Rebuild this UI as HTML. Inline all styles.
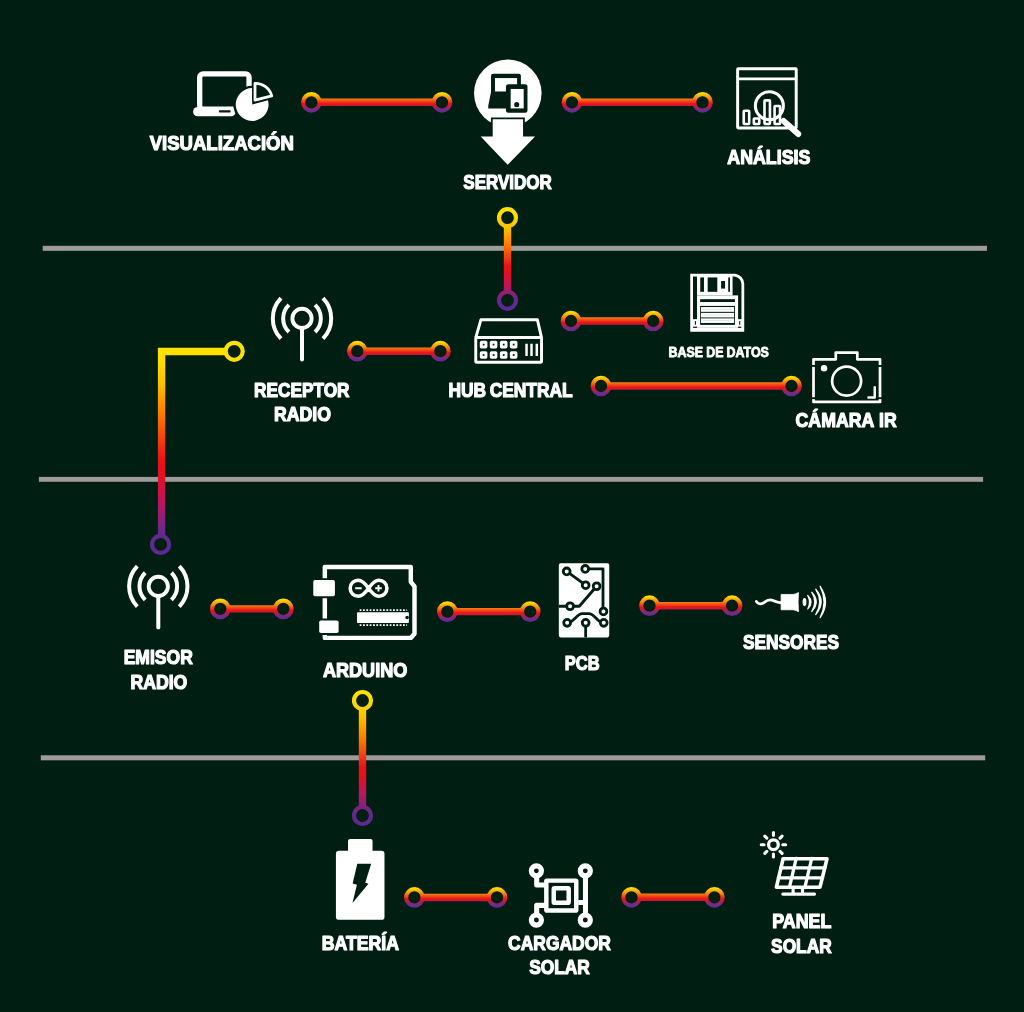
<!DOCTYPE html>
<html lang="es">
<head>
<meta charset="utf-8">
<title>Arquitectura del sistema</title>
<style>
html,body{margin:0;padding:0;background:#011e12;}
body{width:1024px;height:1012px;overflow:hidden;font-family:"Liberation Sans",sans-serif;}
svg{display:block;}
svg text{font-family:"Liberation Sans",sans-serif;font-weight:bold;fill:#fff;stroke:#fff;stroke-width:1.2px;stroke-linejoin:round;word-spacing:-1.5px;}
</style>
</head>
<body>
<svg width="1024" height="1012" viewBox="0 0 1024 1012">
<defs>
<linearGradient id="gh" gradientUnits="userSpaceOnUse" x1="0" y1="-10.7" x2="0" y2="10.7"><stop offset="0" stop-color="#ffe600"/><stop offset="0.06" stop-color="#ffe000"/><stop offset="0.32" stop-color="#f7860f"/><stop offset="0.57" stop-color="#ec1218"/><stop offset="0.87" stop-color="#672d91"/><stop offset="1" stop-color="#602c8f"/></linearGradient>
<linearGradient id="gv1" gradientUnits="userSpaceOnUse" x1="0" y1="207.0" x2="0" y2="311.0"><stop offset="0" stop-color="#ffe400"/><stop offset="0.08" stop-color="#ffdd00"/><stop offset="0.2" stop-color="#ffc000"/><stop offset="0.35" stop-color="#ff8000"/><stop offset="0.47" stop-color="#f2460f"/><stop offset="0.57" stop-color="#e9101a"/><stop offset="0.63" stop-color="#e6101c"/><stop offset="0.76" stop-color="#bd155a"/><stop offset="0.9" stop-color="#62298f"/><stop offset="1" stop-color="#5d2890"/></linearGradient>
<linearGradient id="gv2" gradientUnits="userSpaceOnUse" x1="0" y1="689.8" x2="0" y2="826.2"><stop offset="0" stop-color="#ffe400"/><stop offset="0.08" stop-color="#ffdd00"/><stop offset="0.2" stop-color="#ffc000"/><stop offset="0.35" stop-color="#ff8000"/><stop offset="0.47" stop-color="#f2460f"/><stop offset="0.57" stop-color="#e9101a"/><stop offset="0.63" stop-color="#e6101c"/><stop offset="0.76" stop-color="#bd155a"/><stop offset="0.9" stop-color="#62298f"/><stop offset="1" stop-color="#5d2890"/></linearGradient>
<linearGradient id="gl" gradientUnits="userSpaceOnUse" x1="0" y1="340.5" x2="0" y2="555.0"><stop offset="0" stop-color="#ffe400"/><stop offset="0.1" stop-color="#ffdd00"/><stop offset="0.2" stop-color="#ffc000"/><stop offset="0.33" stop-color="#ff8000"/><stop offset="0.45" stop-color="#f2460f"/><stop offset="0.56" stop-color="#e9101a"/><stop offset="0.62" stop-color="#e6101c"/><stop offset="0.75" stop-color="#bd155a"/><stop offset="0.9" stop-color="#62298f"/><stop offset="1" stop-color="#5d2890"/></linearGradient>
</defs>
<rect width="1024" height="1012" fill="#011e12"/>
<g id="separators"><rect x="42.7" y="245.8" width="944.30" height="5.00" fill="#9f9b9b"/><rect x="38.9" y="476.9" width="944.20" height="4.90" fill="#9f9b9b"/><rect x="40.8" y="755.3" width="944.40" height="5.00" fill="#9f9b9b"/></g>
<g id="connectors">
<g transform="translate(0,102.30)" stroke="url(#gh)" fill="none"><line x1="319.65" y1="0.00" x2="433.75" y2="0.00" stroke-width="7.4"/><circle cx="311.40" cy="0.00" r="8.25" stroke-width="4.2"/><circle cx="442.00" cy="0.00" r="8.25" stroke-width="4.2"/></g>
<g transform="translate(0,102.30)" stroke="url(#gh)" fill="none"><line x1="580.25" y1="0.00" x2="694.25" y2="0.00" stroke-width="7.4"/><circle cx="572.00" cy="0.00" r="8.25" stroke-width="4.2"/><circle cx="702.50" cy="0.00" r="8.25" stroke-width="4.2"/></g>
<g transform="translate(0,351.20)" stroke="url(#gh)" fill="none"><line x1="365.55" y1="0.00" x2="432.15" y2="0.00" stroke-width="7.4"/><circle cx="357.30" cy="0.00" r="8.25" stroke-width="4.2"/><circle cx="440.40" cy="0.00" r="8.25" stroke-width="4.2"/></g>
<g transform="translate(0,321.00)" stroke="url(#gh)" fill="none"><line x1="579.25" y1="0.00" x2="644.95" y2="0.00" stroke-width="7.4"/><circle cx="571.00" cy="0.00" r="8.25" stroke-width="4.2"/><circle cx="653.20" cy="0.00" r="8.25" stroke-width="4.2"/></g>
<g transform="translate(0,386.00)" stroke="url(#gh)" fill="none"><line x1="609.25" y1="0.00" x2="783.25" y2="0.00" stroke-width="7.4"/><circle cx="601.00" cy="0.00" r="8.25" stroke-width="4.2"/><circle cx="791.50" cy="0.00" r="8.25" stroke-width="4.2"/></g>
<g transform="translate(0,608.90)" stroke="url(#gh)" fill="none"><line x1="228.55" y1="0.00" x2="275.05" y2="0.00" stroke-width="7.4"/><circle cx="220.30" cy="0.00" r="8.25" stroke-width="4.2"/><circle cx="283.30" cy="0.00" r="8.25" stroke-width="4.2"/></g>
<g transform="translate(0,611.60)" stroke="url(#gh)" fill="none"><line x1="455.60" y1="0.00" x2="521.95" y2="0.00" stroke-width="7.4"/><circle cx="447.35" cy="0.00" r="8.25" stroke-width="4.2"/><circle cx="530.20" cy="0.00" r="8.25" stroke-width="4.2"/></g>
<g transform="translate(0,605.70)" stroke="url(#gh)" fill="none"><line x1="657.75" y1="0.00" x2="723.85" y2="0.00" stroke-width="7.4"/><circle cx="649.50" cy="0.00" r="8.25" stroke-width="4.2"/><circle cx="732.10" cy="0.00" r="8.25" stroke-width="4.2"/></g>
<g transform="translate(0,897.45)" stroke="url(#gh)" fill="none"><line x1="422.65" y1="0.00" x2="488.75" y2="0.00" stroke-width="7.4"/><circle cx="414.40" cy="0.00" r="8.25" stroke-width="4.2"/><circle cx="497.00" cy="0.00" r="8.25" stroke-width="4.2"/></g>
<g transform="translate(0,897.30)" stroke="url(#gh)" fill="none"><line x1="639.75" y1="0.00" x2="706.15" y2="0.00" stroke-width="7.4"/><circle cx="631.50" cy="0.00" r="8.25" stroke-width="4.2"/><circle cx="714.40" cy="0.00" r="8.25" stroke-width="4.2"/></g>
<g stroke="url(#gv1)" fill="none"><line x1="507.5" y1="226.20" x2="507.5" y2="291.80" stroke-width="7.4"/><circle cx="507.5" cy="217.7" r="8.5" stroke-width="4.2"/><circle cx="507.5" cy="300.3" r="8.5" stroke-width="4.2"/></g>
<g stroke="url(#gv2)" fill="none"><line x1="362.5" y1="709.00" x2="362.5" y2="807.00" stroke-width="7.4"/><circle cx="362.5" cy="700.5" r="8.5" stroke-width="4.2"/><circle cx="362.5" cy="815.5" r="8.5" stroke-width="4.2"/></g>
<g stroke="url(#gl)" fill="none"><path d="M225.95,351.5 H161.6 V536.05" stroke-width="7.4" stroke-linejoin="miter"/><circle cx="234.2" cy="351.3" r="8.5" stroke-width="4.2"/><circle cx="160.6" cy="544.4" r="8.5" stroke-width="4.2"/></g>
</g>
<g id="icons">
<g transform="translate(140,60) scale(0.156250)">
<rect x="382" y="89" width="316" height="225" rx="22" fill="none" stroke="#fff" stroke-width="34"/>
<rect x="340" y="300" width="272" height="60" rx="28" fill="#fff"/>
<rect x="505" y="322" width="75" height="14" rx="5" fill="#011e12"/>
<circle cx="717" cy="285" r="120" fill="#011e12"/>
<path d="M718,285 L718,180 A105,105 0 1 0 819,257 Z" fill="#fff"/>
<path d="M736,257 L736,150 A108,108 0 0 1 843,229 Z" fill="#011e12" stroke="#011e12" stroke-width="36" stroke-linejoin="round"/>
<path d="M736,257 L736,150 A108,108 0 0 1 843,229 Z" fill="#011e12" stroke="#fff" stroke-width="18" stroke-linejoin="round"/>
</g><g transform="translate(444,50) scale(0.126482)">
<circle cx="504.5" cy="342" r="267" fill="#fff"/>
<path d="M385,548 H625 V683 H720 L503,908 L290,683 H385 Z" fill="#fff" stroke="#011e12" stroke-width="28" stroke-linejoin="miter" paint-order="stroke"/>
<path d="M388,188 H592 Q608,188 608,204 V462 H350 V440 L372,330 V204 Q372,188 388,188 Z" fill="#011e12"/>
<rect x="403" y="222" width="175" height="106" fill="#fff"/>
<rect x="490" y="270" width="170" height="227" rx="20" fill="#011e12"/>
<rect x="527" y="308" width="103" height="154" fill="#fff"/>
<circle cx="575" cy="432" r="20" fill="#011e12"/>
</g><g transform="translate(716,56) scale(0.118578)">
<g fill="none" stroke="#fff">
<rect x="182.5" y="107.5" width="494" height="499" rx="5" stroke-width="25"/>
<line x1="182" y1="193" x2="678" y2="193" stroke-width="23"/>
<circle cx="450" cy="420" r="118" stroke-width="26"/>
<line x1="570" y1="548" x2="694" y2="658" stroke-width="50" stroke-linecap="round"/>
<rect x="234" y="462" width="46" height="112" rx="6" stroke-width="22"/>
<rect x="319" y="527" width="46" height="47" rx="6" stroke-width="22"/>
<rect x="409" y="374" width="46" height="200" rx="6" stroke-width="22"/>
<rect x="494" y="422" width="46" height="152" rx="6" stroke-width="22"/>
</g>
</g><g transform="translate(302.0,318.4) scale(0.148221)"><g fill="none" stroke="#fff">
<circle cx="0" cy="0" r="65" stroke-width="26"/>
<line x1="0" y1="70" x2="0" y2="277" stroke-width="27" stroke-linecap="round"/>
<path d="M-88.2,-91.4 A127,127 0 0 0 -88.2,91.4 M88.2,-91.4 A127,127 0 0 1 88.2,91.4 M-141.7,-136.8 A197,197 0 0 0 -141.7,136.8 M141.7,-136.8 A197,197 0 0 1 141.7,136.8" stroke-width="27"/>
</g></g><g transform="translate(158.3,586.35) scale(0.148221)"><g fill="none" stroke="#fff">
<circle cx="0" cy="0" r="65" stroke-width="26"/>
<line x1="0" y1="70" x2="0" y2="277" stroke-width="27" stroke-linecap="round"/>
<path d="M-88.2,-91.4 A127,127 0 0 0 -88.2,91.4 M88.2,-91.4 A127,127 0 0 1 88.2,91.4 M-141.7,-136.8 A197,197 0 0 0 -141.7,136.8 M141.7,-136.8 A197,197 0 0 1 141.7,136.8" stroke-width="27"/>
</g></g><g transform="translate(436,280) scale(0.146484)">
<g fill="none" stroke="#fff" stroke-linejoin="round">
<rect x="271.5" y="392" width="449" height="170" rx="6" stroke-width="20"/>
<path d="M272,392 L307,271 H692 L720,392" stroke-width="20"/>
<path d="M618,436 V518 M652,436 V518 M688,436 V518" stroke-width="17"/>
</g><rect x="299" y="415" width="52" height="52" rx="12" fill="#fff"/><rect x="319" y="435" width="12" height="12" fill="#011e12"/><rect x="299" y="486" width="52" height="52" rx="12" fill="#fff"/><rect x="319" y="506" width="12" height="12" fill="#011e12"/><rect x="367" y="415" width="52" height="52" rx="12" fill="#fff"/><rect x="387" y="435" width="12" height="12" fill="#011e12"/><rect x="367" y="486" width="52" height="52" rx="12" fill="#fff"/><rect x="387" y="506" width="12" height="12" fill="#011e12"/><rect x="436" y="415" width="52" height="52" rx="12" fill="#fff"/><rect x="456" y="435" width="12" height="12" fill="#011e12"/><rect x="436" y="486" width="52" height="52" rx="12" fill="#fff"/><rect x="456" y="506" width="12" height="12" fill="#011e12"/><rect x="504" y="415" width="52" height="52" rx="12" fill="#fff"/><rect x="524" y="435" width="12" height="12" fill="#011e12"/><rect x="504" y="486" width="52" height="52" rx="12" fill="#fff"/><rect x="524" y="506" width="12" height="12" fill="#011e12"/>
</g><g transform="translate(680,264) scale(0.079051)">
<path d="M147,142 H695 Q785,160 795,250 V841 H147 Z" fill="none" stroke="#fff" stroke-width="35" stroke-linejoin="miter"/>
<rect x="215" y="142" width="450" height="255" fill="#fff"/>
<rect x="215" y="397" width="520" height="400" fill="#fff"/>
<rect x="147" y="698" width="648" height="143" fill="#fff"/>
<g fill="#011e12">
<rect x="256" y="170" width="48" height="182"/>
<rect x="350" y="170" width="122" height="182"/>
<rect x="520" y="215" width="50" height="96"/>
<rect x="610" y="170" width="22" height="182"/>
<rect x="255" y="445" width="440" height="36"/>
<rect x="255" y="530" width="440" height="240"/>
<rect x="188" y="722" width="14" height="46"/>
<rect x="748" y="722" width="14" height="46"/>
<rect x="166" y="792" width="50" height="16"/>
<rect x="734" y="792" width="42" height="16"/>
</g>
<g fill="#fff">
<rect x="266" y="545" width="418" height="60"/>
<rect x="266" y="618" width="418" height="58"/>
<rect x="266" y="688" width="418" height="58"/>
</g>
<path d="M295,576 H655 M295,647 H655 M295,716 H655 M216,803 H734" stroke="#011e12" stroke-width="7" opacity="0.22"/>
</g><g transform="translate(770,330) scale(0.146484)">
<g fill="none" stroke="#fff">
<path d="M297,200 H449 V154 H596 V200 H751 V491 H297 Z" stroke-width="18.5" stroke-linejoin="round"/>
<circle cx="523" cy="349" r="99" stroke-width="18.5"/>
<path d="M715,390 V460 H672" stroke-width="17" stroke-linecap="round" stroke-linejoin="round"/>
</g>
<circle cx="369" cy="261" r="22" fill="#fff"/>
<g fill="#011e12"><rect x="284" y="239" width="26" height="13"/><rect x="284" y="459" width="26" height="13"/><rect x="738" y="239" width="26" height="13"/><rect x="738" y="459" width="26" height="13"/></g>
</g><g transform="translate(290,550) scale(0.148221)">
<path d="M235,115 H815 V215 L840,245 V565 L815,593 H235 Z" fill="none" stroke="#fff" stroke-width="30" stroke-linejoin="round"/>
<rect x="157" y="203" width="146" height="109" rx="12" fill="#fff" stroke="#011e12" stroke-width="26" paint-order="stroke"/>
<rect x="197" y="475" width="131" height="85" rx="12" fill="#fff" stroke="#011e12" stroke-width="26" paint-order="stroke"/>
<g fill="none" stroke="#fff">
<path d="M530,258 C505,222 486,204 460,204 A54,54 0 1 0 460,312 C486,312 505,294 530,258 C555,222 574,204 600,204 A54,54 0 1 1 600,312 C574,312 555,294 530,258 Z" stroke-width="24" stroke-linejoin="round"/>
<path d="M440,258 H484 M575,258 H619 M597,236 V280" stroke-width="13"/>
<path d="M470,405 H790 M470,507 H790" stroke-width="12" stroke-dasharray="12 10.5"/>
</g>
<rect x="452" y="420" width="350" height="72" rx="6" fill="#fff"/>
<circle cx="790" cy="456" r="12" fill="#011e12"/>
</g><g transform="translate(520,540.3) scale(0.148221)">
<rect x="262" y="155" width="340" height="500" rx="12" fill="#fff"/>
<g fill="none" stroke="#011e12" stroke-width="19" stroke-linejoin="round">
<path d="M315,210 L443,303"/>
<path d="M440,193 H560 V480"/>
<path d="M262,445 H400 L517,310"/>
<path d="M318,557 C365,557 380,495 420,495 H465 C505,495 520,557 565,557"/>
<path d="M443,557 V655"/>
</g><circle cx="315" cy="210" r="23" fill="#fff" stroke="#011e12" stroke-width="19"/><circle cx="440" cy="193" r="23" fill="#fff" stroke="#011e12" stroke-width="19"/><circle cx="443" cy="303" r="23" fill="#fff" stroke="#011e12" stroke-width="19"/><circle cx="517" cy="310" r="23" fill="#fff" stroke="#011e12" stroke-width="19"/><circle cx="338" cy="445" r="23" fill="#fff" stroke="#011e12" stroke-width="19"/><circle cx="563" cy="480" r="23" fill="#fff" stroke="#011e12" stroke-width="19"/><circle cx="318" cy="557" r="23" fill="#fff" stroke="#011e12" stroke-width="19"/><circle cx="443" cy="557" r="23" fill="#fff" stroke="#011e12" stroke-width="19"/><circle cx="565" cy="557" r="23" fill="#fff" stroke="#011e12" stroke-width="19"/>
</g><g transform="translate(720,560) scale(0.136718)">
<path d="M266,303 C280,325 302,328 324,310 C347,290 367,285 392,298 C412,308 427,312 450,313" fill="none" stroke="#fff" stroke-width="20" stroke-linecap="round"/>
<path d="M447,252 H535 Q560,248 574,238 Q568,308 574,378 Q560,368 535,364 H447 Z" fill="#fff" stroke="#fff" stroke-width="6" stroke-linejoin="round"/>
<ellipse cx="618" cy="308" rx="14" ry="30" fill="#fff"/>
<g fill="#fff" stroke="#fff" stroke-width="9" stroke-linejoin="round">
<path d="M642,259 Q690.0,308.5 642,358 Q668.0,308.5 642,259 Z"/>
<path d="M671,236 Q737.0,306.5 671,377 Q715.0,306.5 671,236 Z"/>
<path d="M700,214 Q780.0,306.5 700,399 Q758.0,306.5 700,214 Z"/>
<path d="M732,192 Q812.0,307.0 732,422 Q790.0,307.0 732,192 Z"/>
</g>
</g><g transform="translate(300,790) scale(0.177866)">
<rect x="202" y="342" width="273" height="388" rx="18" fill="#fff"/>
<rect x="270" y="275" width="138" height="90" rx="12" fill="#fff"/>
<path d="M322,415 H400 L367,522 L385,527 L295,635 L320,533 L296,526 Z" fill="#011e12"/>
</g><g transform="translate(490,840) scale(0.148221)">
<g fill="none" stroke="#fff" stroke-width="30" stroke-linejoin="round">
<circle cx="313" cy="208" r="34" stroke-width="35"/>
<circle cx="643" cy="208" r="34" stroke-width="35"/>
<circle cx="313" cy="540" r="34" stroke-width="35"/>
<circle cx="643" cy="540" r="34" stroke-width="35"/>
<rect x="380" y="274" width="202" height="202" rx="4"/>
<rect x="430" y="326" width="101" height="98" rx="6"/>
<path d="M315,250 V304 H370 M644,250 V498 M595,422 H643 M315,498 V441 H370" stroke-width="34"/>
</g>
</g><g transform="translate(700,820) scale(0.156250)">
<g fill="none" stroke="#fff" stroke-linejoin="round" stroke-linecap="round">
<path d="M532,248 H813 L768,430 H489 Z" stroke-width="23"/>
<path d="M516,306 H800 M501,370 H785 M616,246 L572,432 M715,246 L671,432" stroke-width="21"/>
<path d="M596,432 V470 M656,432 V470 M530,474 H733" stroke-width="20"/>
<circle cx="470" cy="158" r="31" stroke-width="21"/>
<path d="M530.0,158.0 L548.0,158.0 M512.4,200.4 L525.2,213.2 M470.0,218.0 L470.0,236.0 M427.6,200.4 L414.8,213.2 M410.0,158.0 L392.0,158.0 M427.6,115.6 L414.8,102.8 M470.0,98.0 L470.0,80.0 M512.4,115.6 L525.2,102.8 " stroke-width="20"/>
</g>
</g>
</g>
<g id="labels" style="filter:grayscale(1)">
<text x="149.7" y="149.80" font-size="19.4" textLength="144.2" lengthAdjust="spacingAndGlyphs">VISUALIZACIÓN</text>
<text x="463.3" y="188.80" font-size="19.4" textLength="88.6" lengthAdjust="spacingAndGlyphs">SERVIDOR</text>
<text x="727.3" y="164.20" font-size="19.4" textLength="83.0" lengthAdjust="spacingAndGlyphs">ANÁLISIS</text>
<text x="254" y="396.80" font-size="19.4" textLength="95.5" lengthAdjust="spacingAndGlyphs">RECEPTOR</text>
<text x="274" y="420.50" font-size="19.4" textLength="57.0" lengthAdjust="spacingAndGlyphs">RADIO</text>
<text x="448.5" y="396.80" font-size="19.4" textLength="124.2" lengthAdjust="spacingAndGlyphs">HUB CENTRAL</text>
<text x="668.6" y="357.10" font-size="14.6" style="stroke-width:0.85px;word-spacing:-0.5px" textLength="100.3" lengthAdjust="spacingAndGlyphs">BASE DE DATOS</text>
<text x="795.6" y="426.90" font-size="19.4" style="word-spacing:0.6px" textLength="101.1" lengthAdjust="spacingAndGlyphs">CÁMARA IR</text>
<text x="123.7" y="664.30" font-size="19.4" textLength="69.1" lengthAdjust="spacingAndGlyphs">EMISOR</text>
<text x="130.4" y="689.20" font-size="19.4" textLength="56.9" lengthAdjust="spacingAndGlyphs">RADIO</text>
<text x="322.9" y="676.80" font-size="19.4" textLength="84.5" lengthAdjust="spacingAndGlyphs">ARDUINO</text>
<text x="564.8" y="669.80" font-size="19.4" textLength="34.9" lengthAdjust="spacingAndGlyphs">PCB</text>
<text x="743" y="649.30" font-size="20.1" textLength="96.0" lengthAdjust="spacingAndGlyphs">SENSORES</text>
<text x="321.7" y="950.10" font-size="19.4" textLength="77.4" lengthAdjust="spacingAndGlyphs">BATERÍA</text>
<text x="508.1" y="950.10" font-size="19.4" textLength="102.7" lengthAdjust="spacingAndGlyphs">CARGADOR</text>
<text x="529.2" y="974.10" font-size="19.4" textLength="60.7" lengthAdjust="spacingAndGlyphs">SOLAR</text>
<text x="772.2" y="927.50" font-size="19.4" textLength="59.1" lengthAdjust="spacingAndGlyphs">PANEL</text>
<text x="771.1" y="952.50" font-size="19.4" textLength="60.6" lengthAdjust="spacingAndGlyphs">SOLAR</text>
</g>
</svg>
</body>
</html>
